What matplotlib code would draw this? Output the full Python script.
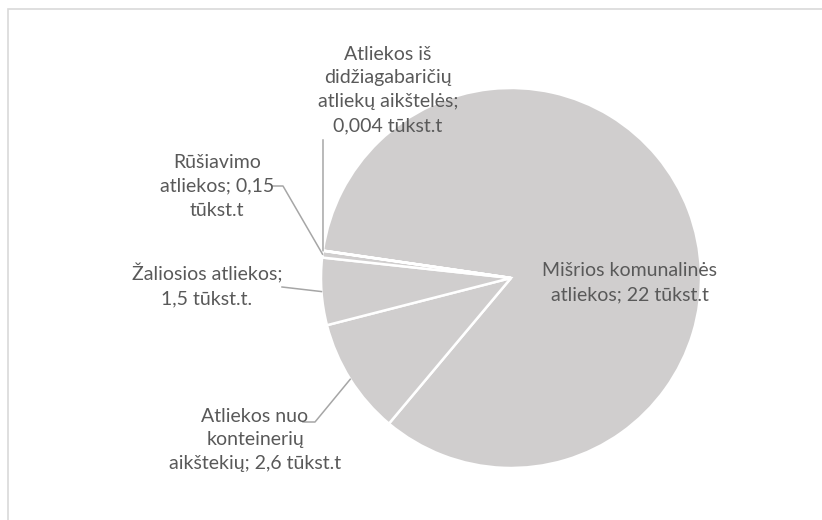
import matplotlib.pyplot as plt
from matplotlib.patches import Rectangle
import numpy as np

# data
labels = ['Mišrios komunalinės\natliekos; 22 tūkst.t',
          'Atliekos nuo\nkonteinerių\naikštekių; 2,6 tūkst.t',
          'Žaliosios atliekos;\n1,5 tūkst.t.',
          'Rūšiavimo\natliekos; 0,15\ntūkst.t',
          'Atliekos iš\ndidžiagabaričių\natliekų aikštelės;\n0,004 tūkst.t']
values = [22, 2.6, 1.5, 0.15, 0.004]

# layout (pixels from top-left)
W, H = 822, 520
cx, cy, R = 511, 278, 190
label_pos = [(630, 283), (255, 440), (207, 285), (217, 186), (388, 90)]
# start of leader lines next to the text, and optional elbow
leader_start = [None, (303, 422), (282, 287), (273, 186), (323, 140)]
leader_elbow = [None, (315, 422), None, (283, 186), None]

txt_col = '#595959'
line_col = '#a6a6a6'
slice_col = '#d0cece'

fig = plt.figure(figsize=(W / 100, H / 100), dpi=100)
ax = fig.add_axes([0, 0, 1, 1])

wedges, _ = ax.pie(values, colors=[slice_col] * len(values), startangle=171.7,
                   counterclock=False, explode=[0.03, 0, 0, 0, 0],
                   center=(cx, H - cy), radius=R,
                   wedgeprops=dict(edgecolor='white', linewidth=1.8))
ax.set_xlim(0, W)
ax.set_ylim(0, H)
ax.set_aspect('equal')
ax.axis('off')

for i, w in enumerate(wedges):
    x, y = label_pos[i]
    ax.text(x, H - y, labels[i], ha='center', va='center', color=txt_col,
            fontsize=14, family='Lato', linespacing=1.5)
    if leader_start[i] is None:
        continue
    ang = np.deg2rad((w.theta1 + w.theta2) / 2)
    px = w.center[0] + R * np.cos(ang)
    py = w.center[1] + R * np.sin(ang)
    pts = [leader_start[i]]
    if leader_elbow[i] is not None:
        pts.append(leader_elbow[i])
    xs = [p[0] for p in pts] + [px]
    ys = [H - p[1] for p in pts] + [py]
    ax.plot(xs, ys, color=line_col, lw=1.1)

# chart area border (only top and left edges are inside the picture)
fig.patches.append(Rectangle((8 / W, -0.1), 1.1, 1.1 - 9 / H, transform=fig.transFigure,
                             fill=False, edgecolor='#d9d9d9', lw=1.2))

fig.savefig('out.png', dpi=100)
